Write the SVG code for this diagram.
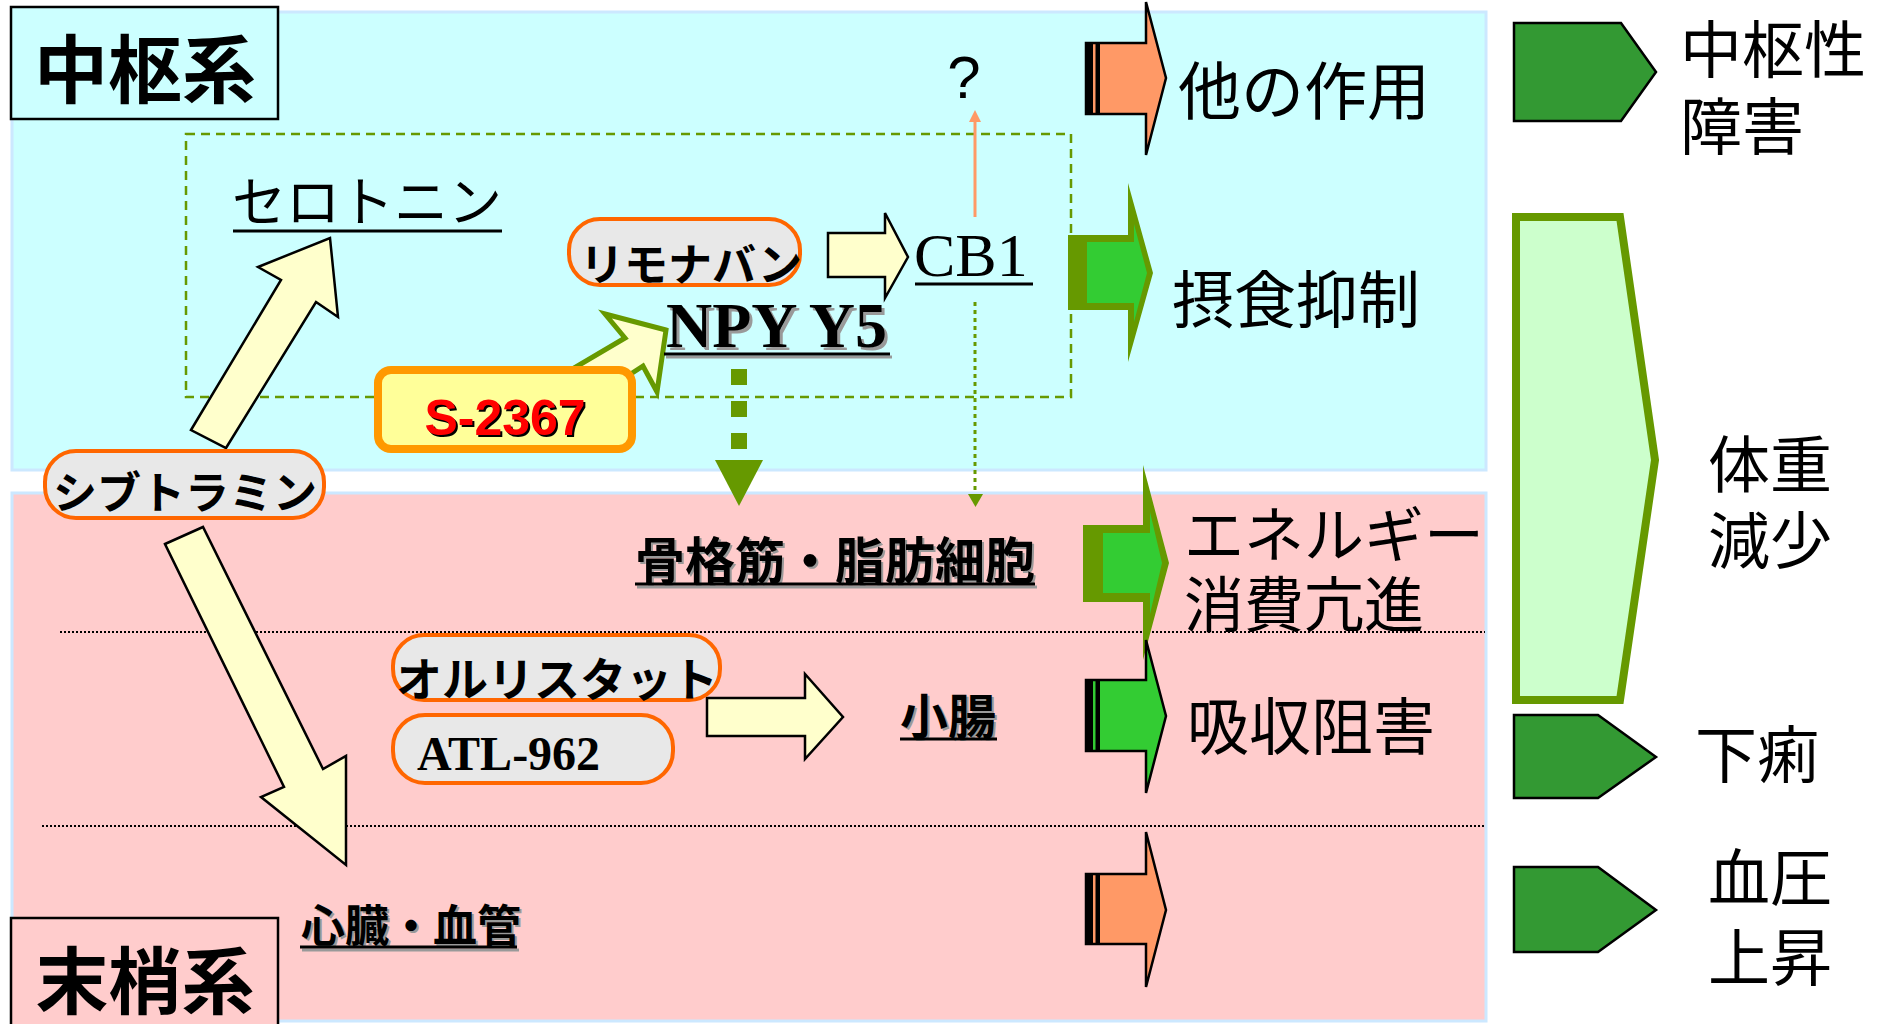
<svg xmlns="http://www.w3.org/2000/svg" width="1883" height="1024" viewBox="0 0 1883 1024">
<style>
.jp{font-family:"Noto Sans CJK JP","Noto Sans",sans-serif;fill:#000}
.b{font-weight:bold}
.serif{font-family:"Liberation Serif","Times New Roman",serif;fill:#000}
.sh{fill:#999}
.yarrow{fill:#FFFFCC;stroke:#000;stroke-width:2.5;stroke-linejoin:miter}
.pill{fill:#E8E8E8;stroke:#FF6600;stroke-width:4}
.ula{stroke:#000;stroke-width:3}
.legend{fill:#339933;stroke:#000;stroke-width:2.5}
.notchA{stroke:#000;stroke-width:2.5;stroke-linejoin:miter}
</style>
<defs>
<marker id="salmonHead" viewBox="0 0 10 10" refX="5" refY="5" markerWidth="4" markerHeight="4.5" orient="auto">
<path d="M0,0 L10,5 L0,10 z" fill="#FF9966"/>
</marker>
</defs>
<rect width="1883" height="1024" fill="#FFFFFF"/>
<g id="backgrounds">
<rect x="12" y="12" width="1474" height="458" fill="#CCFFFF" stroke="#CCE8FF" stroke-width="3"/>
<rect x="12" y="493" width="1474" height="528" fill="#FFCCCC" stroke="#CCE8FF" stroke-width="3"/>
</g>
<g id="region-central">
<rect x="11" y="7" width="267" height="112" fill="#CCFFFF" stroke="#000" stroke-width="2.5"/>
<text x="145" y="97" text-anchor="middle" font-size="74" class="jp b">中枢系</text>
</g>
<g id="region-peripheral">
<rect x="11" y="918" width="267" height="112" fill="#FFCCCC" stroke="#000" stroke-width="2.5"/>
<text x="145" y="1008" text-anchor="middle" font-size="73" class="jp b">末梢系</text>
</g>
<g id="dividers">
<line x1="60" y1="632" x2="1485" y2="632" stroke="#000" stroke-width="2" stroke-dasharray="2 2"/>
<line x1="42" y1="826" x2="1485" y2="826" stroke="#000" stroke-width="2" stroke-dasharray="2 2"/>
</g>
<g id="cns-frame">
<rect x="186" y="134" width="885" height="263" fill="none" stroke="#669900" stroke-width="2.5" stroke-dasharray="9 6"/>
</g>
<g id="connectors">
<polygon class="yarrow" points="191,430 281,280 258,267 330,238 338,317 316,302 226,448"/>
<polygon class="yarrow" points="165,544 203,527 323,769 346,756 346,865 261,797 284,787"/>
<polygon class="yarrow" points="828,233 885,233 885,213 908,257 885,298 885,277 828,277"/>
<polygon class="yarrow" points="707,698 805,698 805,674 843,717 805,759 805,736 707,736"/>
<polygon points="666,330 605,314 625,338 540,388 560,420 643,366 657,392" fill="#FFFFCC" stroke="#669900" stroke-width="5" stroke-linejoin="miter"/>
<line x1="975" y1="217" x2="975" y2="116" stroke="#FF9966" stroke-width="3" marker-end="url(#salmonHead)"/>
<line x1="739" y1="369" x2="739" y2="460" stroke="#669900" stroke-width="16" stroke-dasharray="16 16"/>
<polygon points="715,460 763,460 739,506" fill="#669900"/>
<line x1="975" y1="302" x2="975" y2="495" stroke="#669900" stroke-width="3" stroke-dasharray="4 4"/>
<polygon points="968,494 983,494 975.5,507" fill="#669900"/>
</g>
<g id="node-serotonin">
<text x="367" y="222" text-anchor="middle" font-size="54" class="jp">セロトニン</text>
<line class="ula" x1="233" y1="231" x2="502" y2="231"/>
</g>
<g id="node-rimonabant">
<rect class="pill" x="569" y="219" width="231" height="66" rx="31"/>
<text x="691" y="281" text-anchor="middle" font-size="44" class="jp b">リモナバン</text>
</g>
<g id="node-cb1">
<text x="914" y="276" font-size="62" class="serif">CB1</text>
<line class="ula" x1="915" y1="284" x2="1033" y2="284"/>
</g>
<g id="node-question">
<text x="964" y="98" text-anchor="middle" font-size="60" font-family="Liberation Sans, Arial, sans-serif" fill="#000">?</text>
</g>
<g id="node-npy">
<text x="669" y="350" font-size="64" class="serif b sh">NPY Y5</text>
<text x="666" y="347" font-size="64" class="serif b">NPY Y5</text>
<line x1="666" y1="357" x2="892" y2="357" stroke="#999" stroke-width="3"/>
<line class="ula" x1="664" y1="354" x2="890" y2="354"/>
</g>
<g id="node-s2367">
<rect x="378" y="370" width="254" height="79" rx="13" fill="#FFFF99" stroke="#FF9900" stroke-width="8"/>
<text x="507" y="437" text-anchor="middle" font-size="50" font-family="Liberation Sans, Arial, sans-serif" font-weight="bold" fill="#000">S-2367</text>
<text x="505" y="435" text-anchor="middle" font-size="50" font-family="Liberation Sans, Arial, sans-serif" font-weight="bold" fill="#FF0000">S-2367</text>
</g>
<g id="node-sibutramine">
<rect class="pill" x="45" y="451" width="279" height="67" rx="31"/>
<text x="185" y="509" text-anchor="middle" font-size="44" class="jp b">シブトラミン</text>
</g>
<g id="node-muscle">
<text x="637" y="581" font-size="50" class="jp b sh">骨格筋・脂肪細胞</text>
<text x="635" y="579" font-size="50" class="jp b">骨格筋・脂肪細胞</text>
<line x1="637" y1="587" x2="1037" y2="587" stroke="#999" stroke-width="3"/>
<line class="ula" x1="635" y1="584" x2="1035" y2="584"/>
</g>
<g id="node-orlistat">
<rect class="pill" x="393" y="635" width="327" height="65" rx="31"/>
<text x="557" y="696" text-anchor="middle" font-size="46" class="jp b">オルリスタット</text>
</g>
<g id="node-atl962">
<rect class="pill" x="393" y="715" width="280" height="68" rx="32"/>
<text x="417" y="770" font-size="48" class="serif b">ATL-962</text>
</g>
<g id="node-intestine">
<text x="902" y="736" font-size="48" class="jp b sh">小腸</text>
<text x="900" y="734" font-size="48" class="jp b">小腸</text>
<line class="ula" x1="900" y1="739" x2="997" y2="739"/>
</g>
<g id="node-heart">
<text x="303" y="944" font-size="44" class="jp b sh">心臓・血管</text>
<text x="301" y="942" font-size="44" class="jp b">心臓・血管</text>
<line x1="302" y1="950" x2="519" y2="950" stroke="#999" stroke-width="3"/>
<line class="ula" x1="300" y1="947" x2="517" y2="947"/>
</g>
<g id="effect-other">
<polygon class="notchA" fill="#FF9966" points="1086,43 1146,43 1146,2 1166,78 1146,155 1146,114 1086,114"/>
<rect x="1086" y="43" width="7" height="71" fill="#000"/>
<rect x="1095.5" y="43" width="4.5" height="71" fill="#000"/>
<text x="1178" y="114" font-size="63" class="jp">他の作用</text>
</g>
<g id="effect-appetite">
<polygon fill="#669900" points="1068,235 1128,235 1128,183 1153,273 1128,362 1128,310 1068,310"/>
<polygon fill="#33CC33" points="1087,242 1134,242 1134,224 1147,273 1134,322 1134,303 1087,303"/>
<text x="1172" y="323" font-size="62" class="jp">摂食抑制</text>
</g>
<g id="effect-energy">
<polygon fill="#669900" points="1083,525 1143,525 1143,465 1169,563 1143,660 1143,602 1083,602"/>
<polygon fill="#33CC33" points="1103,533 1150,533 1150,512 1162,563 1150,614 1150,593 1103,593"/>
<text x="1184" y="557" font-size="60" class="jp">エネルギー</text>
<text x="1184" y="627" font-size="60" class="jp">消費亢進</text>
</g>
<g id="effect-absorption">
<polygon class="notchA" fill="#33CC33" points="1086,680 1146,680 1146,640 1166,716 1146,793 1146,751 1086,751"/>
<rect x="1086" y="680" width="7" height="71" fill="#000"/>
<rect x="1095.5" y="680" width="4.5" height="71" fill="#000"/>
<text x="1187" y="750" font-size="62" class="jp">吸収阻害</text>
</g>
<g id="effect-cardio">
<polygon class="notchA" fill="#FF9966" points="1086,874 1146,874 1146,832 1166,910 1146,987 1146,944 1086,944"/>
<rect x="1086" y="874" width="7" height="70" fill="#000"/>
<rect x="1095.5" y="874" width="4.5" height="70" fill="#000"/>
</g>
<g id="legend-cns">
<polygon class="legend" points="1514,23 1621,23 1656,72 1621,121 1514,121"/>
<text x="1680" y="73" font-size="62" class="jp">中枢性</text>
<text x="1680" y="150" font-size="62" class="jp">障害</text>
</g>
<g id="legend-weight">
<polygon points="1516,217 1620,217 1655,460 1620,700 1516,700" fill="#CCFFCC" stroke="#669900" stroke-width="8" stroke-linejoin="miter"/>
<text x="1708" y="488" font-size="62" class="jp">体重</text>
<text x="1708" y="564" font-size="62" class="jp">減少</text>
</g>
<g id="legend-diarrhea">
<polygon class="legend" points="1514,715 1598,715 1656,757 1598,798 1514,798"/>
<text x="1695" y="778" font-size="62" class="jp">下痢</text>
</g>
<g id="legend-bp">
<polygon class="legend" points="1514,867 1598,867 1656,910 1598,952 1514,952"/>
<text x="1708" y="901" font-size="62" class="jp">血圧</text>
<text x="1708" y="981" font-size="62" class="jp">上昇</text>
</g>
</svg>
